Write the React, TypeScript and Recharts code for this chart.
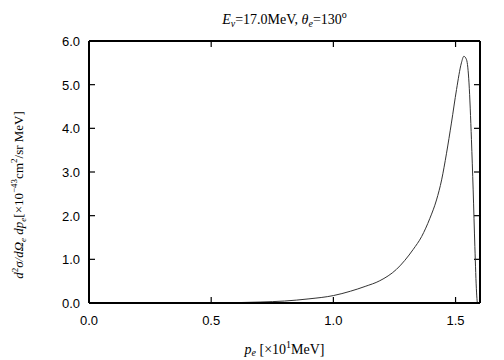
import React from 'react';
import { LineChart, Line, XAxis, YAxis, ReferenceLine } from 'recharts';

const momentum = [0.54, 0.6, 0.7, 0.8, 0.9, 1.0, 1.07, 1.13, 1.19, 1.258, 1.327, 1.361, 1.395, 1.422, 1.443, 1.463, 1.483, 1.504, 1.524, 1.534, 1.545, 1.555, 1.565, 1.572, 1.579, 1.586, 1.589];
const crossSection = [0.0, 0.008, 0.022, 0.045, 0.095, 0.17, 0.27, 0.38, 0.51, 0.77, 1.23, 1.52, 1.94, 2.36, 2.82, 3.43, 4.12, 4.89, 5.5, 5.65, 5.57, 5.04, 3.74, 2.59, 1.29, 0.23, 0.0];
const xTicks = [0, 0.5, 1.0, 1.5];
const yTicks = [0, 1, 2, 3, 4, 5, 6];
const X_MAX = 1.6;
const Y_MAX = 6;

const data = momentum.map((p, i) => ({ p, s: crossSection[i] }));

const W = 504;
const H = 360;
const XH = 30;
const YW = 60;
const TH = 10;
const RW = 10;
const PLOT_L = 89;
const PLOT_R = 480;
const PLOT_T = 41;
const PLOT_B = 303;
const M = { top: PLOT_T - TH, right: W - PLOT_R - RW, bottom: H - PLOT_B - XH, left: PLOT_L - YW };
const TL = 6;
const tickDX = (X_MAX * TL) / (PLOT_R - PLOT_L);
const tickDY = (Y_MAX * TL) / (PLOT_B - PLOT_T);
const sans = "'Liberation Sans', Arimo, Arial, sans-serif";
const serif = "'Liberation Serif', 'Times New Roman', serif";

const BottomTick = (props: any) => {
  const { x, y, payload } = props;
  return (
    <g>
      <path d={`M${x},${y}v${-TL}`} stroke="#000" strokeWidth={1.2} fill="none" />
      <text x={x} y={y + 22} textAnchor="middle" fontFamily={sans} fontSize={13} fill="#000">
        {Number(payload.value).toFixed(1)}
      </text>
    </g>
  );
};
const LeftTick = (props: any) => {
  const { x, y, payload } = props;
  return (
    <g>
      <path d={`M${x},${y}h${TL}`} stroke="#000" strokeWidth={1.2} fill="none" />
      <text x={x - 9} y={y + 5} textAnchor="end" fontFamily={sans} fontSize={13} fill="#000">
        {Number(payload.value).toFixed(1)}
      </text>
    </g>
  );
};
const NoTick = () => <g />;

const axisLine = { stroke: '#000', strokeWidth: 2 };

export default function App() {
  const cx = PLOT_L + (PLOT_R - PLOT_L) / 2;
  const innerXTicks = xTicks.filter((t) => t > 0 && t < X_MAX);
  const innerYTicks = yTicks.filter((t) => t > 0 && t < Y_MAX);
  return (
    <div style={{ position: 'absolute', left: 0, top: 0, width: W, height: H, background: '#fff' }}>
      <LineChart width={W} height={H} data={data} margin={M}>
        <XAxis dataKey="p" type="number" domain={[0, X_MAX]} ticks={xTicks} xAxisId="b" orientation="bottom"
          height={XH} tickSize={0} tickMargin={0} tickLine={false} axisLine={axisLine} tick={BottomTick} interval={0} allowDataOverflow />
        <XAxis dataKey="p" type="number" domain={[0, X_MAX]} ticks={xTicks} xAxisId="t" orientation="top"
          height={TH} tickSize={0} tickMargin={0} tickLine={false} axisLine={axisLine} tick={NoTick} interval={0} allowDataOverflow />
        <YAxis type="number" domain={[0, Y_MAX]} ticks={yTicks} yAxisId="l" orientation="left"
          width={YW} tickSize={0} tickMargin={0} tickLine={false} axisLine={axisLine} tick={LeftTick} interval={0} />
        <YAxis type="number" domain={[0, Y_MAX]} ticks={yTicks} yAxisId="r" orientation="right"
          width={RW} tickSize={0} tickMargin={0} tickLine={false} axisLine={axisLine} tick={NoTick} interval={0} />
        {innerXTicks.map((t) => (
          <ReferenceLine key={'xt' + t} xAxisId="b" yAxisId="l" ifOverflow="visible" stroke="#000" strokeWidth={1.2}
            segment={[{ x: t, y: Y_MAX }, { x: t, y: Y_MAX - tickDY }]} />
        ))}
        {innerYTicks.map((t) => (
          <ReferenceLine key={'yr' + t} xAxisId="b" yAxisId="l" ifOverflow="visible" stroke="#000" strokeWidth={1.2}
            segment={[{ x: X_MAX, y: t }, { x: X_MAX - tickDX, y: t }]} />
        ))}
        <Line xAxisId="b" yAxisId="l" dataKey="s" type="monotone" stroke="#333" strokeWidth={1}
          dot={false} isAnimationActive={false} />
        <Line xAxisId="t" yAxisId="r" dataKey="s" type="monotone" stroke="none" strokeWidth={0}
          dot={false} isAnimationActive={false} legendType="none" />
      </LineChart>
      <svg width={W} height={H} style={{ position: 'absolute', left: 0, top: 0, pointerEvents: 'none' }}>
        <text x={cx} y={24} textAnchor="middle" fontFamily={serif} fontSize={14} fill="#000">
          <tspan fontStyle="italic">E</tspan>
          <tspan fontStyle="italic" fontSize={10} dy={3}>ν</tspan>
          <tspan dy={-3}>=17.0MeV,  </tspan>
          <tspan fontStyle="italic">θ</tspan>
          <tspan fontStyle="italic" fontSize={10} dy={3}>e</tspan>
          <tspan dy={-3}>=130</tspan>
          <tspan fontSize={10} dy={-6}>o</tspan>
        </text>
        <text x={cx} y={354} textAnchor="middle" fontFamily={serif} fontSize={14} fill="#000">
          <tspan fontStyle="italic">p</tspan>
          <tspan fontStyle="italic" fontSize={10} dy={2}>e</tspan>
          <tspan dy={-2}> [×10</tspan>
          <tspan fontSize={10} dy={-6}>1</tspan>
          <tspan dy={6}>MeV]</tspan>
        </text>
        <text transform="translate(23,195) rotate(-90)" textAnchor="middle" fontFamily={serif} fontSize={13} fill="#000">
          <tspan fontStyle="italic">d</tspan>
          <tspan fontSize={9} dy={-5}>2</tspan>
          <tspan fontStyle="italic" dy={5}>σ/dΩ</tspan>
          <tspan fontStyle="italic" fontSize={9} dy={3}>e</tspan>
          <tspan fontStyle="italic" dy={-3}> dp</tspan>
          <tspan fontStyle="italic" fontSize={9} dy={3}>e</tspan>
          <tspan dy={-3}>[×10</tspan>
          <tspan fontSize={9} dy={-6}>−43</tspan>
          <tspan dy={6}>cm</tspan>
          <tspan fontSize={9} dy={-6}>2</tspan>
          <tspan dy={6}>/sr MeV]</tspan>
        </text>
      </svg>
    </div>
  );
}
